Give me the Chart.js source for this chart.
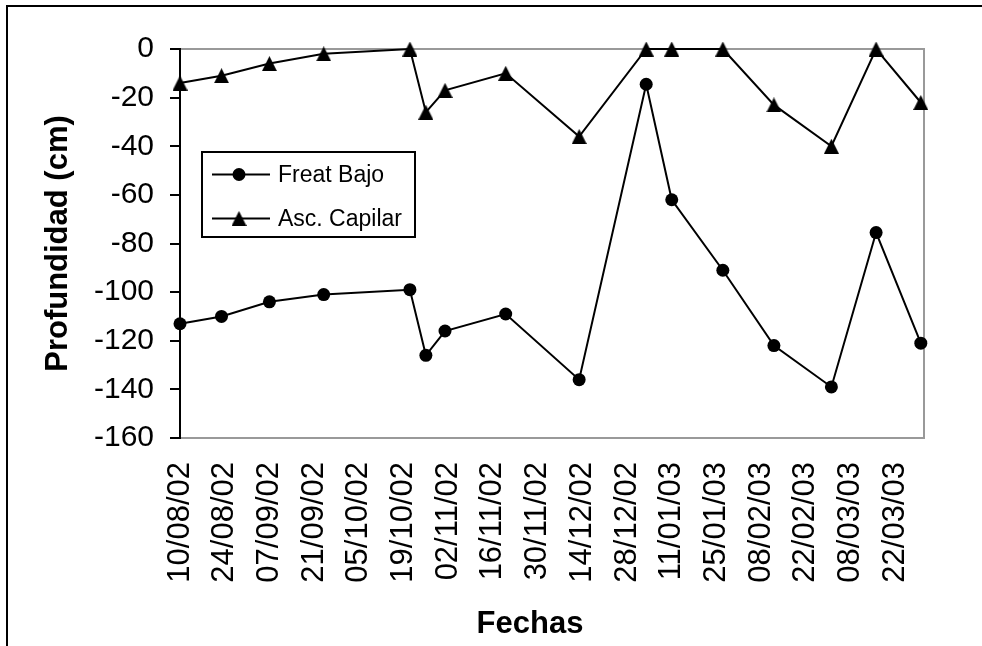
<!DOCTYPE html>
<html>
<head>
<meta charset="utf-8">
<title>Profundidad freática y ascenso capilar</title>
<script src="https://cdn.jsdelivr.net/npm/chart.js@4.4.1/dist/chart.umd.min.js"></script>
<style>
  html, body { margin: 0; padding: 0; background: #fff; }
  #wrap { width: 982px; height: 646px; position: relative; }
</style>
</head>
<body>
<div id="wrap"><canvas id="chart"></canvas></div>
<script>
// Sampling dates (dd/mm/yy)
const fechas = ['10/08/02', '23/08/02', '07/09/02', '24/09/02', '21/10/02', '26/10/02',
                '01/11/02', '20/11/02', '13/12/02', '03/01/03', '11/01/03', '27/01/03',
                '12/02/03', '02/03/03', '16/03/03', '30/03/03'];
// Depth values (cm)
const freatBajo  = [-113, -110, -104, -101, -99, -126, -116, -109, -136, -14.5, -62, -91, -122, -139, -75.5, -121];
const ascCapilar = [-14, -11, -6, -2, 0, -26, -17, -10, -36, 0, 0, 0, -23, -40, 0, -22];
// Date axis tick labels, every 14 days
const tickFechas = ['10/08/02', '24/08/02', '07/09/02', '21/09/02', '05/10/02', '19/10/02',
                    '02/11/02', '16/11/02', '30/11/02', '14/12/02', '28/12/02', '11/01/03',
                    '25/01/03', '08/02/03', '22/02/03', '08/03/03', '22/03/03'];
const finEje = '31/03/03';
const serieNombres = ['Freat Bajo', 'Asc. Capilar'];
const ejeY = { min: -160, max: 0, paso: 20 };
const tituloX = 'Fechas';
const tituloY = 'Profundidad (cm)';

const FONT = "'Liberation Sans', Arial, Helvetica, sans-serif";
const DAY = 86400000;
function parseFecha(s) {
  const [d, m, y] = s.split('/').map(Number);
  return Date.UTC(2000 + y, m - 1, d);
}
const origen = parseFecha(tickFechas[0]);
const dia = s => Math.round((parseFecha(s) - origen) / DAY);

// Solid triangle marker, centred on its bounding box
function triangulo(w, h) {
  const c = document.createElement('canvas');
  c.width = w; c.height = h;
  const g = c.getContext('2d');
  g.fillStyle = '#000';
  g.beginPath();
  g.moveTo(w / 2, 0);
  g.lineTo(w, h);
  g.lineTo(0, h);
  g.closePath();
  g.fill();
  return c;
}
const triMarker = triangulo(15, 15);

const puntos = vals => fechas.map((f, i) => ({ x: dia(f), y: vals[i] }));

// Page frame, plot border and white background
const fondo = {
  id: 'fondo',
  beforeDraw(chart) {
    const { ctx, chartArea: a } = chart;
    ctx.save();
    ctx.fillStyle = '#fff';
    ctx.fillRect(0, 0, chart.width, chart.height);
    ctx.strokeStyle = '#000';
    ctx.lineWidth = 2;
    ctx.strokeRect(7, 6, chart.width + 20, chart.height + 20);
    ctx.strokeStyle = '#999';
    ctx.lineWidth = 2;
    ctx.strokeRect(a.left, a.top, a.right - a.left, a.bottom - a.top);
    ctx.restore();
  }
};

// Boxed legend inside the plot and the horizontal axis title
const leyenda = {
  id: 'leyenda',
  afterDraw(chart) {
    const { ctx, chartArea: a } = chart;
    ctx.save();
    const bx = a.left + 22, by = a.top + 103, bw = 213, bh = 85;
    ctx.fillStyle = '#fff';
    ctx.fillRect(bx, by, bw, bh);
    ctx.strokeStyle = '#000';
    ctx.lineWidth = 2;
    ctx.strokeRect(bx, by, bw, bh);
    const filas = [by + 22.5, by + 66.5];
    chart.data.datasets.forEach((ds, i) => {
      const y = filas[i];
      ctx.strokeStyle = '#000';
      ctx.lineWidth = 2;
      ctx.beginPath();
      ctx.moveTo(bx + 10, y);
      ctx.lineTo(bx + 68, y);
      ctx.stroke();
      const mx = bx + 37;
      if (i === 0) {
        ctx.fillStyle = '#000';
        ctx.beginPath();
        ctx.arc(mx, y, 6.5, 0, Math.PI * 2);
        ctx.fill();
      } else {
        ctx.drawImage(triMarker, mx - triMarker.width / 2, y - triMarker.height / 2);
      }
      ctx.fillStyle = '#000';
      ctx.font = '23px ' + FONT;
      ctx.textAlign = 'left';
      ctx.textBaseline = 'middle';
      ctx.fillText(ds.label, bx + 76, y + 1);
    });
    ctx.font = 'bold 31px ' + FONT;
    ctx.textAlign = 'center';
    ctx.textBaseline = 'alphabetic';
    ctx.fillText(tituloX, a.left + 350, 633);
    ctx.restore();
  }
};

new Chart(document.getElementById('chart'), {
  type: 'line',
  data: {
    datasets: [
      {
        label: serieNombres[0],
        data: puntos(freatBajo),
        borderColor: '#000',
        borderWidth: 2,
        pointStyle: 'circle',
        pointRadius: 6.5,
        pointBorderWidth: 0,
        pointBackgroundColor: '#000',
        pointBorderColor: '#000',
        tension: 0,
        fill: false,
        clip: false
      },
      {
        label: serieNombres[1],
        data: puntos(ascCapilar),
        borderColor: '#000',
        borderWidth: 2,
        pointStyle: triMarker,
        pointRadius: 7.5,
        pointBackgroundColor: '#000',
        pointBorderColor: '#000',
        tension: 0,
        fill: false,
        clip: false
      }
    ]
  },
  options: {
    responsive: true,
    maintainAspectRatio: false,
    animation: false,
    devicePixelRatio: 1,
    events: [],
    layout: { padding: { left: 0, top: 49, right: 58, bottom: 0 } },
    plugins: { legend: { display: false }, tooltip: { enabled: false } },
    scales: {
      x: {
        type: 'linear',
        min: 0,
        max: dia(finEje),
        afterBuildTicks: s => { s.ticks = tickFechas.map(f => ({ value: dia(f) })); },
        afterFit: s => { s.height = 208; },
        grid: { display: false, drawTicks: false },
        border: { display: false },
        ticks: {
          autoSkip: false,
          minRotation: 90,
          maxRotation: 90,
          padding: 24,
          color: '#000',
          font: { family: FONT, size: 31 },
          callback: (v, i) => tickFechas[i]
        }
      },
      y: {
        min: ejeY.min,
        max: ejeY.max,
        afterFit: s => { s.width = 180; },
        ticks: {
          stepSize: ejeY.paso,
          padding: 16,
          color: '#000',
          font: { family: FONT, size: 30 }
        },
        grid: { drawOnChartArea: false, drawTicks: true, tickLength: 10, color: '#000', lineWidth: 2 },
        border: { display: true, color: '#000', width: 2 },
        title: {
          display: true,
          text: tituloY,
          color: '#000',
          font: { family: FONT, size: 31, weight: 'bold' },
          padding: { top: 40, bottom: 0 }
        }
      }
    }
  },
  plugins: [fondo, leyenda]
});
</script>
</body>
</html>
